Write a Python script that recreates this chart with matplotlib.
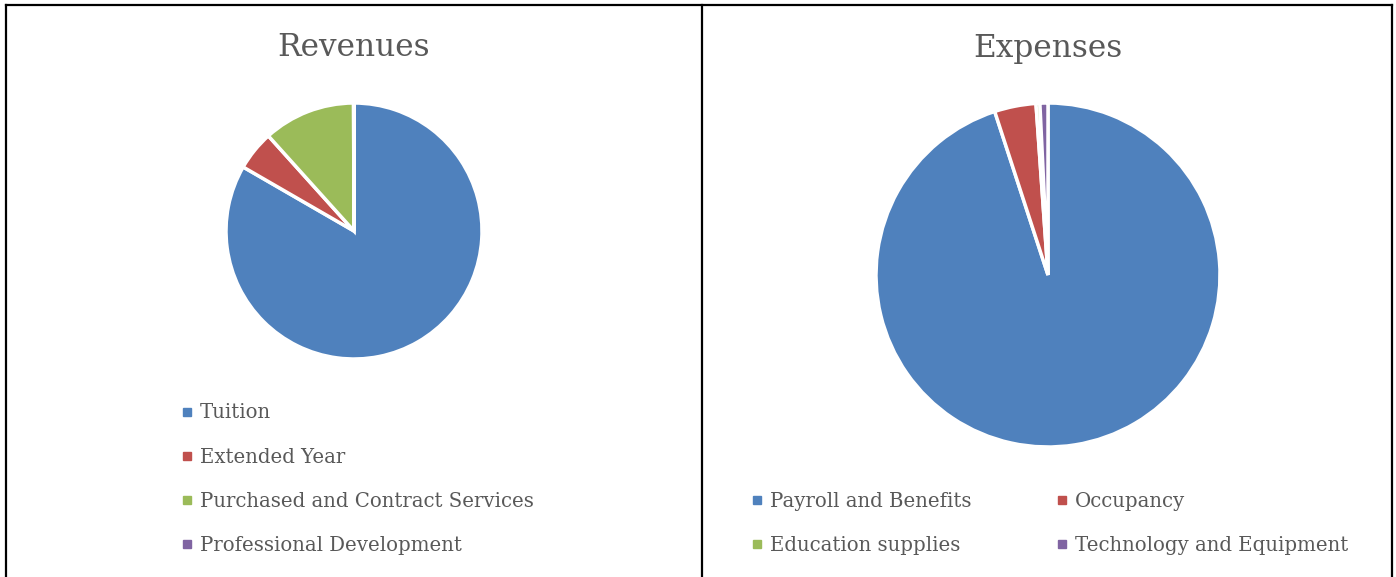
import matplotlib
matplotlib.use('Agg')
import matplotlib.pyplot as plt
from matplotlib.lines import Line2D

plt.rcParams['font.family'] = 'DejaVu Serif'

W, H = 1396, 577
TEXT = '#595959'
COLORS = ['#4F81BD', '#C0504D', '#9BBB59', '#8064A2']

# data (in slice degrees)
rev_labels = ['Tuition', 'Extended Year', 'Purchased and Contract Services', 'Professional Development']
rev_values = [300, 18, 41.8, 0.2]
exp_labels = ['Payroll and Benefits', 'Occupancy', 'Education supplies', 'Technology and Equipment']
exp_values = [341, 14, 1.3, 2.7]

fig = plt.figure(figsize=(W / 100, H / 100), dpi=100)


def pie_axes(cx, cy, r):
    return fig.add_axes([(cx - r) / W, (H - cy - r) / H, 2 * r / W, 2 * r / H])


def draw_pie(ax, values):
    ax.pie(values, colors=COLORS, startangle=90, counterclock=False, radius=1,
           wedgeprops=dict(edgecolor='white', linewidth=2.5))
    ax.set_xlim(-1, 1); ax.set_ylim(-1, 1)
    ax.set_aspect('equal'); ax.axis('off')


ax1 = pie_axes(354, 231, 128)
draw_pie(ax1, rev_values)
ax2 = pie_axes(1048, 275, 172)
draw_pie(ax2, exp_values)

fig.text(354 / W, 1 - 48 / H, 'Revenues', ha='center', va='center', fontsize=22.5, color=TEXT)
fig.text(1048 / W, 1 - 48 / H, 'Expenses', ha='center', va='center', fontsize=22.5, color=TEXT)


def handles(labels, order):
    return [Line2D([], [], marker='s', linestyle='none', markersize=5.5,
                   color=COLORS[i], label=labels[i]) for i in order]


leg_kw = dict(frameon=False, fontsize=14.2, labelcolor=TEXT, handlelength=0.6,
              handletextpad=0.35, borderpad=0, borderaxespad=0, labelspacing=1.28, loc='upper left')
fig.legend(handles=handles(rev_labels, [0, 1, 2, 3]), ncol=1,
           bbox_to_anchor=(181 / W, 1 - 403.5 / H), **leg_kw)
# two columns, filled row by row as in the reference
fig.legend(handles=handles(exp_labels, [0, 2, 1, 3]), ncol=2, columnspacing=4.3,
           bbox_to_anchor=(751 / W, 1 - 492 / H), **leg_kw)

# cell borders
for x in (6, 702, 1392):
    fig.add_artist(Line2D([x / W, x / W], [0, 1 - 5 / H], color='black', linewidth=1.6))
fig.add_artist(Line2D([6 / W, 1392 / W], [1 - 5 / H, 1 - 5 / H], color='black', linewidth=1.6))

fig.savefig('out.png', dpi=100, facecolor='white')
